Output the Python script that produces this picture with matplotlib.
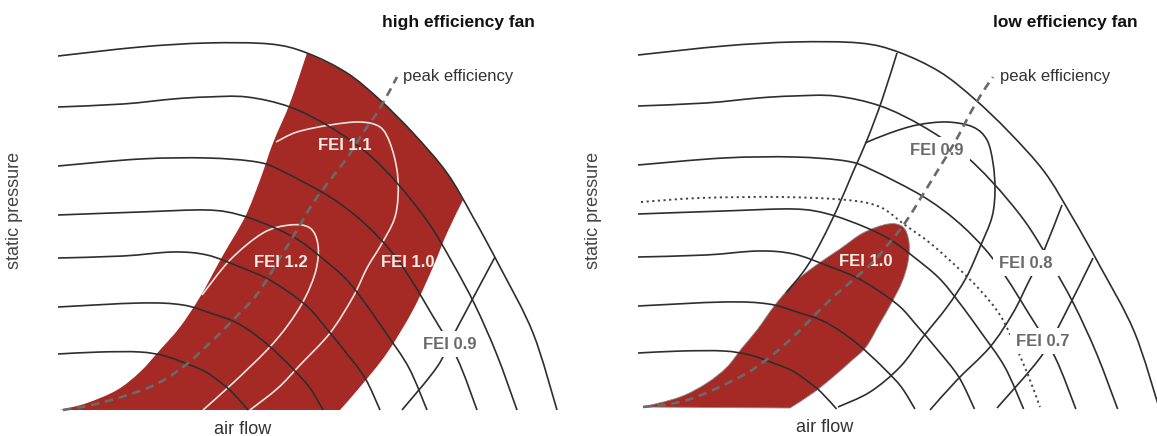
import numpy as np
import matplotlib
matplotlib.use("Agg")
import matplotlib.pyplot as plt
from matplotlib.path import Path
from matplotlib.patches import PathPatch

plt.rcParams['font.family'] = ['Liberation Sans', 'DejaVu Sans']

# fan curves (left panel pixel coords: x = air flow, y = pressure, y down)
fan_curves = [
    [(58, 56), (140, 47), (207, 43), (270, 44), (307, 53), (347, 73), (380, 100), (413, 133),
     (447, 173), (473, 217), (500, 267), (533, 333), (557, 410)],
    [(58, 107), (123, 104), (173, 99), (207, 97), (247, 97), (290, 107), (330, 127), (367, 153),
     (397, 183), (428, 222), (452, 262), (475, 305), (497, 355), (517, 410)],
    [(58, 166), (140, 159), (207, 158), (257, 162), (282, 171), (330, 197), (363, 222), (390, 250),
     (410, 278), (431, 313), (457, 358), (477, 410)],
    [(58, 215), (140, 212), (207, 210), (240, 215), (275, 228), (300, 241), (322, 258), (346, 279),
     (365, 303), (386, 333), (409, 368), (427, 410)],
    [(58, 258), (123, 256), (173, 252), (207, 255), (240, 267), (266, 278), (287, 291), (309, 308),
     (326, 328), (344, 350), (365, 378), (380, 410)],
    [(58, 307), (140, 303), (183, 305), (213, 314), (233, 321), (250, 331), (267, 344), (280, 356),
     (294, 370), (310, 388), (323, 410)],
    [(58, 354), (100, 352), (140, 352), (165, 356), (190, 365), (206, 372), (220, 382), (233, 393),
     (248, 410)],
]

# high efficiency fan: FEI >= 1.0 area
hi_left_edge = [(60, 410), (87, 403), (117, 390), (140, 372), (160, 350), (180, 327), (200, 297),
                (222, 257), (245, 217), (260, 180), (273, 143), (290, 103), (307, 53)]
hi_top_edge = [(307, 53), (347, 73), (380, 100), (413, 133), (447, 173), (463, 200)]
hi_right_edge = [(463, 200), (447, 233), (433, 267), (413, 310), (387, 353), (360, 387), (340, 410)]
hi_fei11 = [(276, 142), (297, 132), (330, 125), (360, 122), (380, 127), (390, 143), (397, 170),
            (398, 197), (394, 220), (381, 245), (367, 268), (353, 297), (330, 333), (300, 365),
            (278, 388), (250, 410)]
hi_fei12 = [(202, 295), (230, 260), (263, 233), (290, 225), (310, 228), (318, 245), (316, 270),
            (305, 298), (288, 325), (267, 350), (233, 383), (203, 410)]
hi_fei09 = [(402, 410), (437, 367), (455, 332), (495, 257)]
hi_peak = [(63, 410), (100, 403), (150, 387), (183, 367), (213, 340), (235, 318), (258, 293),
           (280, 258), (297, 230), (313, 203), (330, 180), (347, 158), (363, 133), (380, 108),
           (397, 77)]

# low efficiency fan (right panel pixel coords)
lo_fei10 = [(643, 407), (680, 397), (707, 383), (727, 367), (742, 348), (757, 330), (775, 305),
            (795, 282), (815, 266), (840, 249), (863, 233), (888, 224), (903, 227), (909, 242),
            (908, 262), (902, 282), (892, 302), (880, 323), (866, 347), (850, 362), (833, 377),
            (813, 393), (790, 408)]
lo_fei09_left = [(897, 53), (882, 100), (867, 140), (853, 172), (838, 207), (822, 240), (806, 268),
                 (786, 293)]
lo_fei09_loop = [(865, 143), (890, 133), (917, 125), (947, 122), (973, 127), (987, 140), (993, 163),
                 (995, 190), (992, 217), (980, 247), (966, 278), (947, 307), (923, 337), (900, 367),
                 (870, 392), (838, 407)]
lo_fei08 = [(930, 410), (957, 380), (990, 347), (1013, 313), (1028, 283), (1043, 253), (1062, 205)]
lo_fei07 = [(997, 408), (1040, 358), (1062, 320), (1093, 258)]
lo_dotted = [(641, 202), (700, 198), (780, 197), (847, 200), (880, 207), (905, 225), (930, 243),
             (957, 267), (980, 290), (1000, 315), (1015, 345), (1028, 375), (1040, 407)]
lo_peak = [(643, 407), (680, 402), (713, 390), (747, 373), (770, 357), (793, 337), (813, 317),
           (833, 297), (853, 280), (873, 262), (890, 242), (905, 223), (922, 196), (938, 170),
           (955, 142), (972, 110), (986, 87), (993, 77)]

hi_labels = [("FEI 1.1", 345, 145, 'w'), ("FEI 1.2", 281, 262, 'w'), ("FEI 1.0", 408, 262, 'w'),
             ("FEI 0.9", 450, 344, 'g')]
lo_labels = [("FEI 0.9", 937, 150, 'g'), ("FEI 1.0", 866, 261, 'w'), ("FEI 0.8", 1026, 263, 'g'),
             ("FEI 0.7", 1043, 341, 'g')]

RED = '#a52a26'
INK = '#2e2e2e'


def bez(pts):
    p = np.asarray(pts, float)
    ext = np.vstack([p[0], p, p[-1]])
    verts = [p[0]]
    for i in range(len(p) - 1):
        a, b, c, d = ext[i], ext[i + 1], ext[i + 2], ext[i + 3]
        verts += [b + (c - a) / 6, c - (d - b) / 6, c]
    codes = [Path.MOVETO] + [Path.CURVE4] * (3 * (len(p) - 1))
    return verts, codes


def curve(ax, pts, **kw):
    v, c = bez(pts)
    ax.add_patch(PathPatch(Path(v, c), fill=False, capstyle='butt', **kw))


def region(ax, pieces, **kw):
    verts, codes = [], []
    for k, pc in enumerate(pieces):
        v, c = bez(pc)
        if k > 0:
            c[0] = Path.LINETO
        verts += v
        codes += c
    verts.append(verts[0])
    codes.append(Path.CLOSEPOLY)
    ax.add_patch(PathPatch(Path(verts, codes), **kw))


def to_right(pts):
    return [(638 + (x - 58) * 1.045, y - 1) for x, y in pts]


fig = plt.figure(figsize=(11.57, 4.36), dpi=100)
ax = fig.add_axes([0, 0, 1, 1])
ax.set_xlim(0, 1157)
ax.set_ylim(436, 0)
ax.axis('off')

# ---- high efficiency fan
region(ax, [hi_left_edge, hi_top_edge, hi_right_edge], fc=RED, ec='none', zorder=1)
for c in (hi_fei11, hi_fei12):
    curve(ax, c, ec='#f3e4dc', lw=1.2, zorder=2)
for c in fan_curves:
    curve(ax, c, ec=INK, lw=1.2, zorder=3)
curve(ax, hi_fei09, ec=INK, lw=1.2, zorder=3)
curve(ax, hi_peak, ec='#6a6a6a', lw=1.9, ls=(0, (3.2, 2.2)), zorder=4)

# ---- low efficiency fan
region(ax, [lo_fei10], fc=RED, ec='#8a8a8a', lw=0.6, zorder=1)
for c in fan_curves:
    curve(ax, to_right(c), ec=INK, lw=1.2, zorder=3)
for c in (lo_fei09_left, lo_fei09_loop, lo_fei08, lo_fei07):
    curve(ax, c, ec=INK, lw=1.2, zorder=3)
curve(ax, lo_dotted, ec='#444444', lw=1.4, ls=(0, (1.1, 1.8)), zorder=4)
curve(ax, lo_peak, ec='#6a6a6a', lw=1.9, ls=(0, (3.2, 2.2)), zorder=7)

for txt, x, y, col in hi_labels + lo_labels:
    if col == 'w':
        ax.text(x, y, txt, color='#f7ede8', fontsize=12, fontweight='bold',
                ha='center', va='center', zorder=6)
    else:
        ax.text(x, y, txt, color='#6a6a6a', fontsize=12, fontweight='bold',
                ha='center', va='center', zorder=6,
                bbox=dict(boxstyle='square,pad=0.35', fc='white', ec='none'))

ax.text(535, 22, "high efficiency fan", fontsize=12.5, fontweight='bold', color='#111111',
        ha='right', va='center')
ax.text(1138, 22, "low efficiency fan", fontsize=12.5, fontweight='bold', color='#111111',
        ha='right', va='center')
ax.text(403, 77, "peak efficiency", fontsize=12, color='#333333', ha='left', va='center')
ax.text(1000, 76, "peak efficiency", fontsize=12, color='#333333', ha='left', va='center')
for x in (15, 593):
    ax.text(x, 210, "static pressure", fontsize=13, color='#444444', rotation=90,
            ha='center', va='center')
ax.text(243, 429, "air flow", fontsize=13, color='#333333', ha='center', va='center')
ax.text(825, 427, "air flow", fontsize=13, color='#333333', ha='center', va='center')

fig.savefig("out.png", dpi=100)
